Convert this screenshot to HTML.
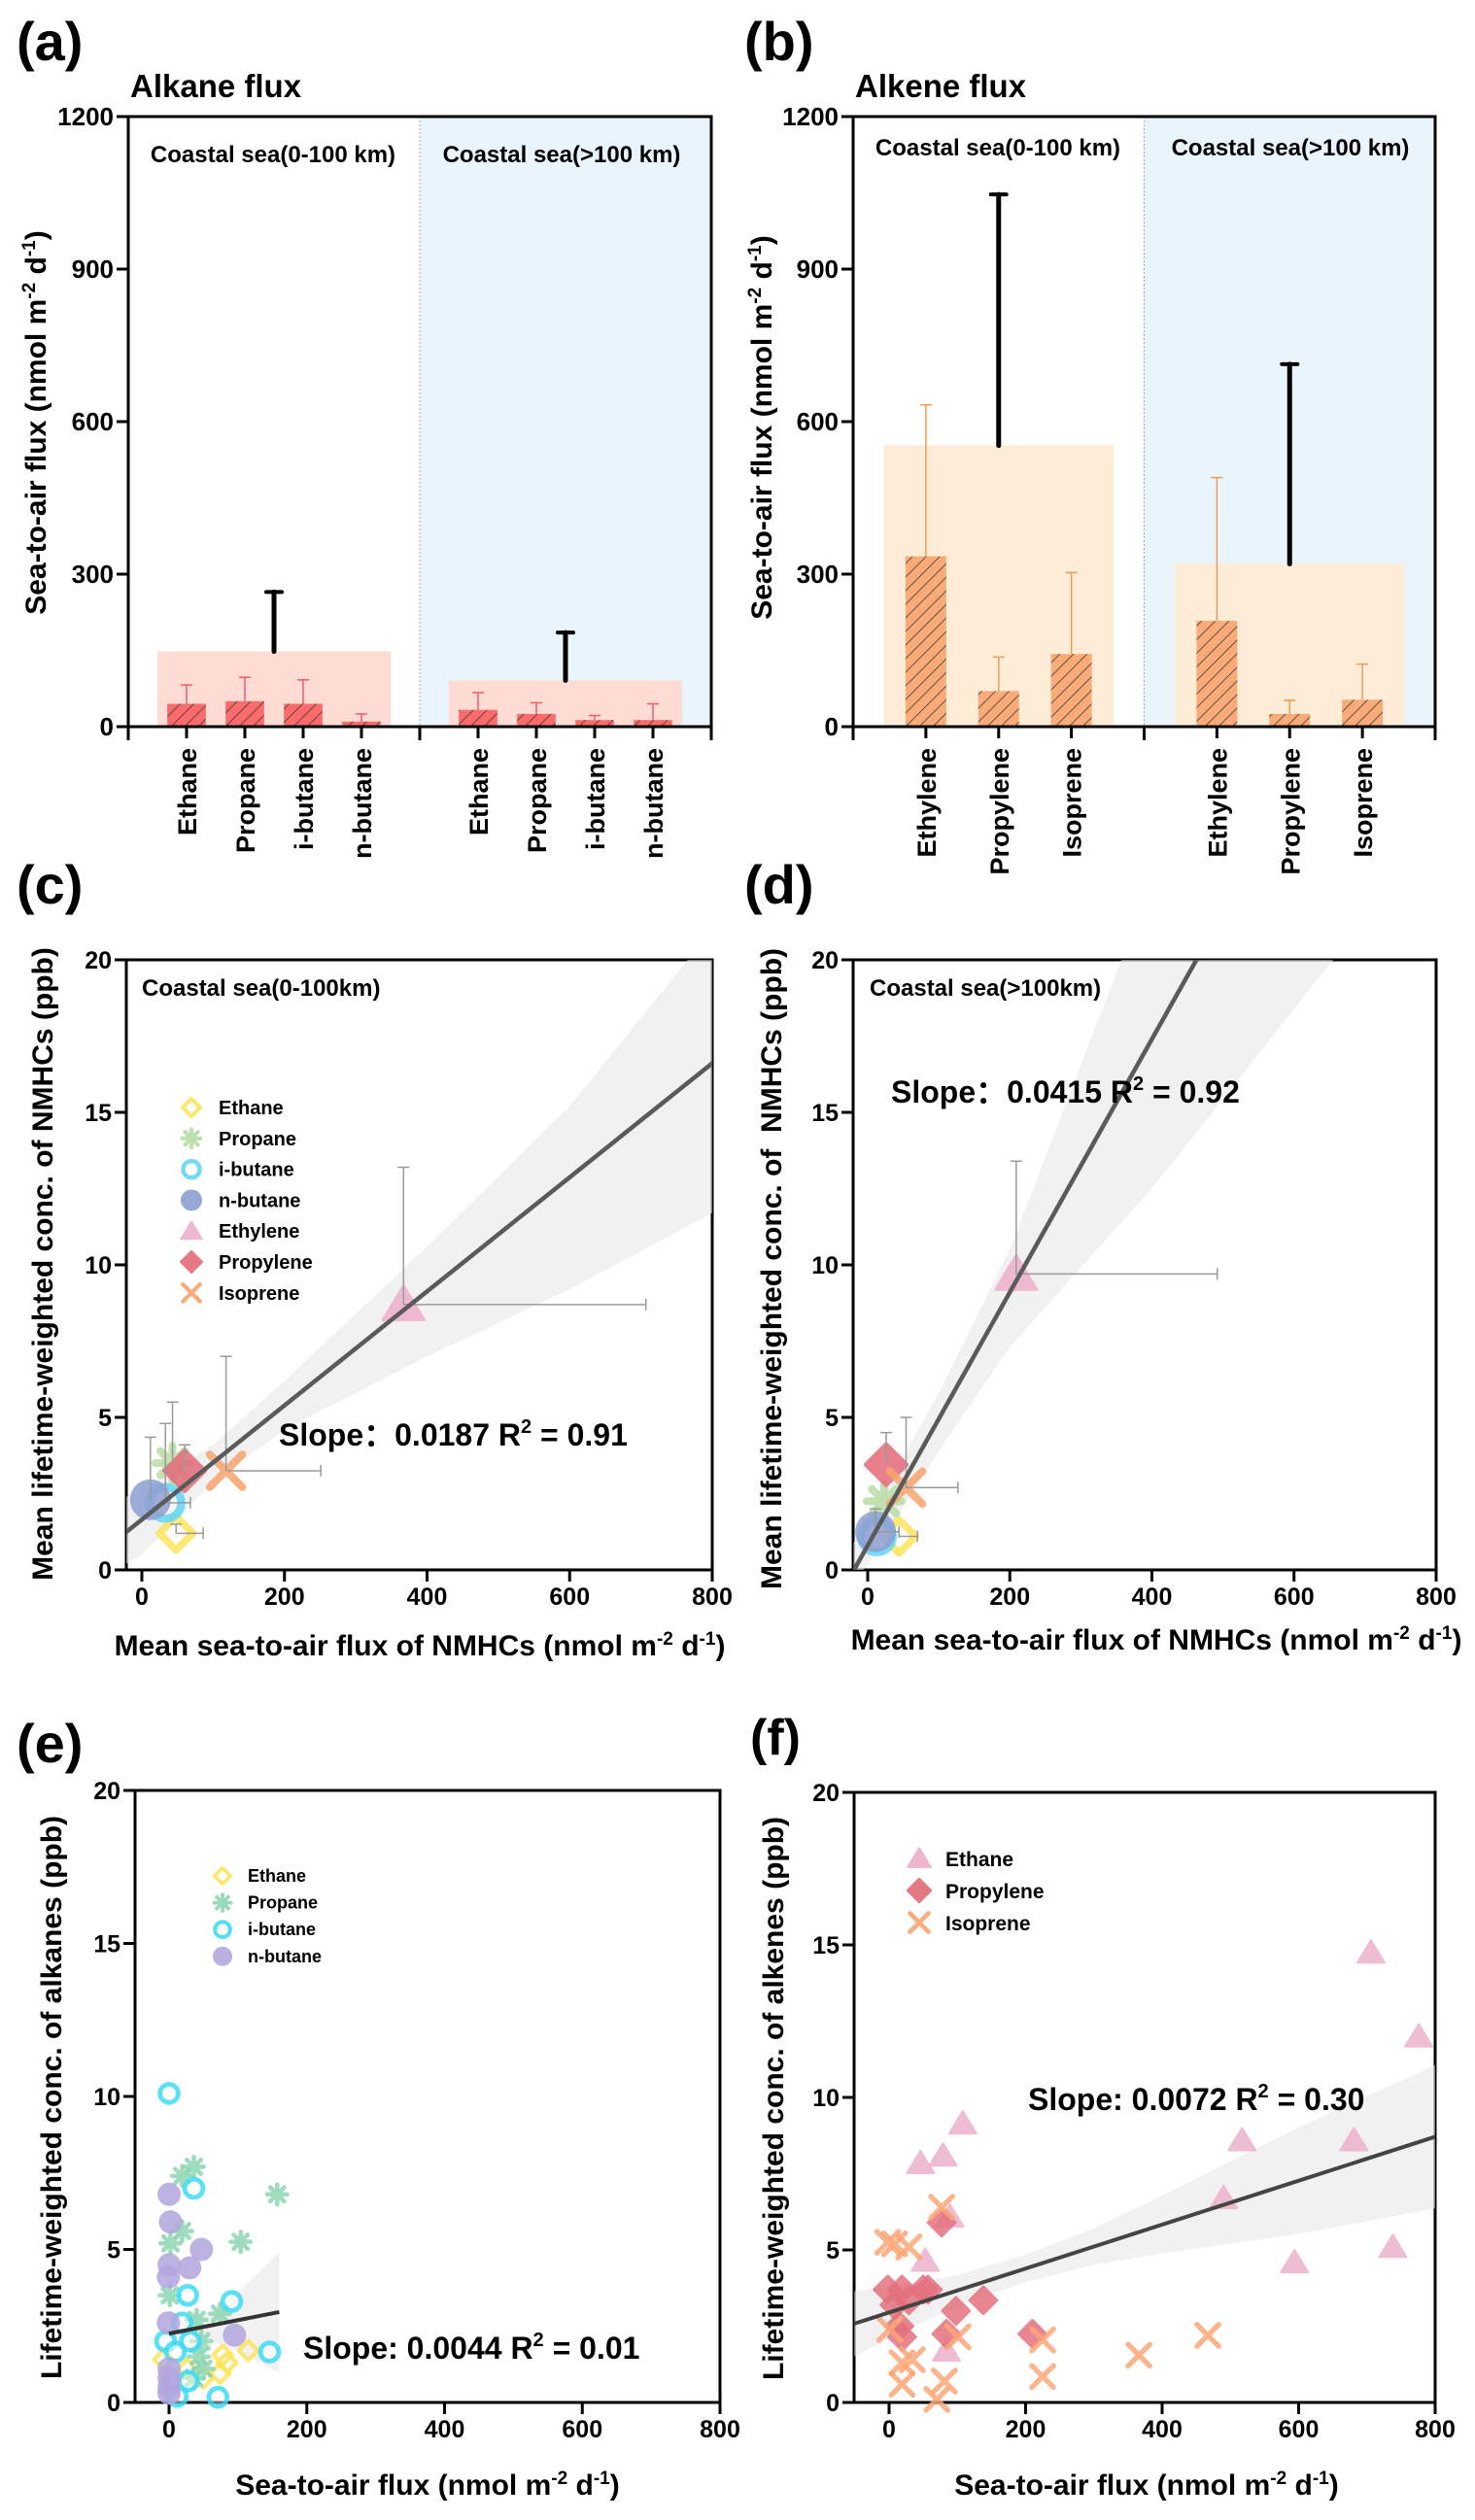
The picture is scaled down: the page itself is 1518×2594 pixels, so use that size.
<!DOCTYPE html>
<html>
<head>
<meta charset="utf-8">
<title>NMHC sea-to-air flux figure</title>
<style>
  html, body { margin: 0; padding: 0; background: #ffffff; }
  svg { display: block; font-family: "Liberation Sans", Arial, sans-serif; font-weight: bold; }
  text { fill: #000; }
</style>
</head>
<body>
<svg id="fig" xmlns="http://www.w3.org/2000/svg" width="1518" height="2594" viewBox="0 0 1518 2594">
  <defs>
    <pattern id="hatch" patternUnits="userSpaceOnUse" width="14" height="14">
      <path d="M-2,16 L16,-2 M-9,9 L9,-9 M5,23 L23,5" stroke="#333" stroke-width="1" opacity="0.75"/>
    </pattern>
    <clipPath id="clip-c"><rect x="130" y="988" width="603" height="628"/></clipPath>
    <clipPath id="clip-d"><rect x="878" y="988" width="600" height="628"/></clipPath>
    <clipPath id="clip-e"><rect x="139" y="1843" width="602" height="630"/></clipPath>
    <clipPath id="clip-f"><rect x="879" y="1845" width="598" height="628"/></clipPath>
  </defs>

  <!-- Panel letters and titles -->
  <text x="17" y="62" font-size="56">(a)</text>
  <text x="134" y="100" font-size="33">Alkane flux</text>
  <text x="766" y="62" font-size="56">(b)</text>
  <text x="880" y="100" font-size="33">Alkene flux</text>
  <text x="17" y="930" font-size="56">(c)</text>
  <text x="766" y="930" font-size="56">(d)</text>
  <text x="17" y="1814" font-size="56">(e)</text>
  <text x="772" y="1806" font-size="52">(f)</text>

  <!-- Axis titles -->
  <text transform="translate(47,435) rotate(-90)" text-anchor="middle" font-size="30">Sea-to-air flux (nmol m<tspan dy="-11" font-size="19">-2</tspan><tspan dy="11"> d</tspan><tspan dy="-11" font-size="19">-1</tspan><tspan dy="11">)</tspan></text>
  <text transform="translate(794,440) rotate(-90)" text-anchor="middle" font-size="30">Sea-to-air flux (nmol m<tspan dy="-11" font-size="19">-2</tspan><tspan dy="11"> d</tspan><tspan dy="-11" font-size="19">-1</tspan><tspan dy="11">)</tspan></text>
  <text transform="translate(54,1301) rotate(-90)" text-anchor="middle" font-size="30">Mean lifetime-weighted conc. of NMHCs (ppb)</text>
  <text transform="translate(804,1306) rotate(-90)" text-anchor="middle" font-size="30" xml:space="preserve">Mean lifetime-weighted conc. of  NMHCs (ppb)</text>
  <text transform="translate(63,2159) rotate(-90)" text-anchor="middle" font-size="30">Lifetime-weighted conc. of alkanes (ppb)</text>
  <text transform="translate(806,2160) rotate(-90)" text-anchor="middle" font-size="30">Lifetime-weighted conc. of alkenes (ppb)</text>

  <text x="432" y="1704" text-anchor="middle" font-size="30">Mean sea-to-air flux of NMHCs (nmol m<tspan dy="-11" font-size="19">-2</tspan><tspan dy="11"> d</tspan><tspan dy="-11" font-size="19">-1</tspan><tspan dy="11">)</tspan></text>
  <text x="1190" y="1698" text-anchor="middle" font-size="30">Mean sea-to-air flux of NMHCs (nmol m<tspan dy="-11" font-size="19">-2</tspan><tspan dy="11"> d</tspan><tspan dy="-11" font-size="19">-1</tspan><tspan dy="11">)</tspan></text>
  <text x="440" y="2568" text-anchor="middle" font-size="30">Sea-to-air flux (nmol m<tspan dy="-11" font-size="19">-2</tspan><tspan dy="11"> d</tspan><tspan dy="-11" font-size="19">-1</tspan><tspan dy="11">)</tspan></text>
  <text x="1180" y="2568" text-anchor="middle" font-size="30">Sea-to-air flux (nmol m<tspan dy="-11" font-size="19">-2</tspan><tspan dy="11"> d</tspan><tspan dy="-11" font-size="19">-1</tspan><tspan dy="11">)</tspan></text>

  <g id="layer-marks"></g>

  <!-- Inner annotations -->
  <text x="281" y="167" text-anchor="middle" font-size="24">Coastal sea(0-100 km)</text>
  <text x="578" y="167" text-anchor="middle" font-size="24">Coastal sea(&gt;100 km)</text>
  <text x="1027" y="160" text-anchor="middle" font-size="24">Coastal sea(0-100 km)</text>
  <text x="1328" y="160" text-anchor="middle" font-size="24">Coastal sea(&gt;100 km)</text>
  <text x="146" y="1025" font-size="24">Coastal sea(0-100km)</text>
  <text x="895" y="1025" font-size="24">Coastal sea(&gt;100km)</text>
  <text x="287" y="1488" font-size="32" xml:space="preserve">Slope：0.0187 R<tspan dy="-13" font-size="20">2</tspan><tspan dy="13"> = 0.91</tspan></text>
  <text x="917" y="1135" font-size="32" xml:space="preserve">Slope：0.0415 R<tspan dy="-13" font-size="20">2</tspan><tspan dy="13"> = 0.92</tspan></text>
  <text x="312" y="2428" font-size="32">Slope: 0.0044 R<tspan dy="-13" font-size="20">2</tspan><tspan dy="13"> = 0.01</tspan></text>
  <text x="1058" y="2172" font-size="32">Slope: 0.0072 R<tspan dy="-13" font-size="20">2</tspan><tspan dy="13"> = 0.30</tspan></text>
</svg>

<script>
// ===================== DATA =====================
// Panel (a) alkane flux
const alkaneCats = ['Ethane', 'Propane', 'i-butane', 'n-butane'];
const alkaneNear = [45, 50, 45, 10];
const alkaneNearErr = [82, 97, 92, 25];
const alkaneFar = [33, 25, 13, 13];
const alkaneFarErr = [67, 47, 22, 45];
const alkaneTotal = [148, 91];
const alkaneTotalErr = [265, 185];

// Panel (b) alkene flux
const alkeneCats = ['Ethylene', 'Propylene', 'Isoprene'];
const alkeneNear = [335, 70, 143];
const alkeneNearErr = [633, 137, 303];
const alkeneFar = [208, 25, 53];
const alkeneFarErr = [490, 52, 123];
const alkeneTotal = [553, 320];
const alkeneTotalErr = [1047, 713];

const fluxTicks = [0, 300, 600, 900, 1200];

// Panel (c) near-shore means
const speciesNames = ['Ethane', 'Propane', 'i-butane', 'n-butane', 'Ethylene', 'Propylene', 'Isoprene'];
const nearFlux = [48, 43, 33, 12, 367, 60, 118];
const nearConc = [1.2, 3.5, 2.2, 2.3, 8.7, 3.25, 3.25];
const nearFluxHi = [86, 43, 68, 12, 707, 60, 251];
const nearConcHi = [1.5, 5.5, 4.8, 4.35, 13.2, 4.1, 7.0];
const nearBandX = [-22, 0, 100, 200, 400, 600, 800];
const nearBandLo = [0.2, 0.5, 2.9, 4.6, 7.0, 9.2, 11.7];
const nearBandHi = [2.4, 2.6, 4.1, 6.2, 10.6, 15.2, 21.0];
const nearFit = [1.65, 0.0187];

// Panel (d) offshore means
const farFlux = [44, 23, 13, 11, 209, 26, 54];
const farConc = [1.1, 2.25, 1.1, 1.25, 9.7, 3.45, 2.7];
const farFluxHi = [70, 23, 13, 44, 492, 26, 127];
const farConcHi = [1.1, 2.25, 1.1, 2.0, 13.4, 4.5, 5.0];
const farBandX = [-20, 0, 100, 200, 357, 400, 655, 800];
const farBandLo = [-0.5, 0.2, 3.9, 7.3, 11.4, 12.5, 20.0, 24.0];
const farBandHi = [0.9, 1.6, 5.8, 10.5, 20.0, 22.5, 34.0, 40.0];
const farFit = [0.8, 0.0415];

const scatterXTicks = [0, 200, 400, 600, 800];
const scatterYTicks = [0, 5, 10, 15, 20];

// Panel (e) alkanes
const eEthaneX = [-8, 78, 84, 115, 74, 50, 26];
const eEthaneY = [1.4, 1.55, 1.3, 1.7, 0.95, 0.8, 1.1];
const ePropaneX = [36, 19, 157, 19, 2, 104, 1, 40, 74, 43, 50, 36, 47];
const ePropaneY = [7.7, 7.4, 6.8, 5.6, 5.2, 5.25, 3.5, 2.7, 2.9, 1.5, 1.1, 0.8, 2.0];
const eIbutaneX = [0, 36, 27, 91, 19, 31, -5, 9, 146, 28, 71, 12];
const eIbutaneY = [10.1, 7.0, 3.5, 3.3, 2.6, 2.0, 2.0, 1.65, 1.65, 0.7, 0.17, 0.2];
const eNbutaneX = [0, 2, 47, 0, 30, -1, -1, 95, 0, 0, 0, 0];
const eNbutaneY = [6.8, 5.9, 5.0, 4.5, 4.4, 4.1, 2.6, 2.2, 1.1, 0.8, 0.5, 0.3];
const eBandX = [0, 50, 100, 160];
const eBandLo = [1.6, 2.1, 1.7, 0.95];
const eBandHi = [2.8, 2.85, 3.6, 4.9];
const eFit = [2.25, 0.0044];
const eFitRange = [0, 160];

// Panel (f) alkenes
const fEthyleneX = [706, 776, 108, 79, 46, 517, 681, 490, 89, 53, 594, 738, 84];
const fEthyleneY = [14.75, 12.0, 9.15, 8.1, 7.85, 8.6, 8.6, 6.7, 6.1, 4.65, 4.6, 5.1, 1.7];
const fPropyleneX = [-2, 19, 50, 57, 29, 138, 98, 15, 19, 84, 210, 77, 8];
const fPropyleneY = [3.7, 3.7, 3.7, 3.7, 3.35, 3.35, 3.0, 2.5, 2.15, 2.25, 2.25, 5.9, 3.2];
const fIsopreneX = [-2, 8, 29, 77, 1, 101, 225, 467, 366, 225, 19, 34, 19, 81, 70];
const fIsopreneY = [5.25, 5.2, 5.1, 6.4, 2.4, 2.15, 2.05, 2.2, 1.55, 0.85, 1.3, 1.4, 0.6, 0.7, 0.1];
const fBandX = [-51, 0, 100, 200, 300, 400, 500, 600, 700, 800];
const fBandLo = [1.51, 2.1, 3.17, 3.94, 4.51, 4.88, 5.2, 5.52, 5.94, 6.36];
const fBandHi = [3.65, 3.8, 4.17, 4.84, 5.71, 6.78, 7.9, 9.02, 10.04, 11.06];
const fFit = [2.95, 0.0072];

// ===================== HELPERS =====================
const NS = 'http://www.w3.org/2000/svg';
const svg = document.getElementById('fig');
const layer = document.getElementById('layer-marks');
function mk(tag, attrs, parent) {
  const e = document.createElementNS(NS, tag);
  for (const k in attrs) e.setAttribute(k, attrs[k]);
  (parent || layer).appendChild(e);
  return e;
}
function lin(d0, d1, p0, p1) { return v => p0 + (v - d0) / (d1 - d0) * (p1 - p0); }

const COLORS = {
  'Ethane': '#fde45a', 'Propane': '#b9dca4', 'i-butane': '#62d6f6', 'n-butane': '#8d9ed2',
  'Ethylene': '#eeb0cb', 'Propylene': '#e46a7a', 'Isoprene': '#f8a46c'
};
const SHAPES = {
  'Ethane': 'diamondOpen', 'Propane': 'asterisk', 'i-butane': 'ring', 'n-butane': 'circle',
  'Ethylene': 'triangle', 'Propylene': 'diamond', 'Isoprene': 'x'
};

function marker(shape, cx, cy, s, color, parent, opacity) {
  const g = mk('g', { opacity: opacity }, parent);
  if (shape === 'diamondOpen') {
    const k = s * 0.82;
    mk('polygon', { points: `${cx},${cy - k} ${cx + k},${cy} ${cx},${cy + k} ${cx - k},${cy}`, fill: 'none', stroke: color, 'stroke-width': s * 0.36, 'stroke-linejoin': 'round' }, g);
  } else if (shape === 'asterisk') {
    for (let a = 0; a < 180; a += 45) {
      const r = a * Math.PI / 180;
      const dx = Math.cos(r) * s * 0.85, dy = Math.sin(r) * s * 0.85;
      mk('line', { x1: cx - dx, y1: cy - dy, x2: cx + dx, y2: cy + dy, stroke: color, 'stroke-width': s * 0.38, 'stroke-linecap': 'round' }, g);
    }
  } else if (shape === 'ring') {
    mk('circle', { cx: cx, cy: cy, r: s * 0.78, fill: '#ffffff', 'fill-opacity': 0.5, stroke: color, 'stroke-width': s * 0.4 }, g);
  } else if (shape === 'circle') {
    mk('circle', { cx: cx, cy: cy, r: s, fill: color }, g);
  } else if (shape === 'triangle') {
    mk('polygon', { points: `${cx},${cy - s * 0.9} ${cx + s},${cy + s * 0.75} ${cx - s},${cy + s * 0.75}`, fill: color, stroke: color, 'stroke-width': s * 0.15, 'stroke-linejoin': 'round' }, g);
  } else if (shape === 'diamond') {
    mk('polygon', { points: `${cx},${cy - s} ${cx + s},${cy} ${cx},${cy + s} ${cx - s},${cy}`, fill: color, stroke: color, 'stroke-width': s * 0.2, 'stroke-linejoin': 'round' }, g);
  } else if (shape === 'x') {
    const k = s * 0.8;
    mk('line', { x1: cx - k, y1: cy - k, x2: cx + k, y2: cy + k, stroke: color, 'stroke-width': s * 0.38, 'stroke-linecap': 'round' }, g);
    mk('line', { x1: cx - k, y1: cy + k, x2: cx + k, y2: cy - k, stroke: color, 'stroke-width': s * 0.38, 'stroke-linecap': 'round' }, g);
  }
  return g;
}

// ===================== BAR PANELS =====================
function barPanel(p, cats, near, nearErr, far, farErr, total, totalErr) {
  const y = lin(0, 1200, p.bottom, p.top);
  const mid = (p.left + p.right) / 2;
  const n = cats.length;
  const regions = [[p.left, mid, near, nearErr], [mid, p.right, far, farErr]];

  const far_bg = mk('rect', { x: mid, y: p.top, width: p.right - mid, height: p.bottom - p.top, fill: '#eaf4fd' });
  
  

  const divider = mk('line', { x1: mid, y1: p.top, x2: mid, y2: p.bottom, stroke: '#aaa', 'stroke-width': 1, 'stroke-dasharray': '2,2' });
  
  

  regions.forEach((reg, ri) => {
    const [l, r, vals, errs] = reg;
    const sp = (r - l) / (n + 1);
    const centers = cats.map((c, i) => l + sp * (i + 1) + p.shift);
    const bgX0 = centers[0] - sp * p.bgPad;
    const bgX1 = centers[n - 1] + sp * p.bgPad;
    const totRect = mk('rect', { x: bgX0, y: y(total[ri]), width: bgX1 - bgX0, height: p.bottom - y(total[ri]), fill: p.totalColor });
    
    

    const cxm = (centers[0] + centers[n - 1]) / 2;
    const tErr = mk('g', {});
    
    
    mk('line', { x1: cxm, y1: y(total[ri]), x2: cxm, y2: y(totalErr[ri]), stroke: '#000', 'stroke-width': 5, 'stroke-linecap': 'round' }, tErr);
    mk('line', { x1: cxm - 8, y1: y(totalErr[ri]), x2: cxm + 8, y2: y(totalErr[ri]), stroke: '#000', 'stroke-width': 4, 'stroke-linecap': 'round' }, tErr);

    cats.forEach((c, i) => {
      const bw = sp * p.barFrac;
      const bx = centers[i] - bw / 2;
      const by = y(vals[i]);
      const bar = mk('rect', { x: bx, y: by, width: bw, height: p.bottom - by, fill: p.barColor });
      
      
      const hatchRect = mk('rect', { x: bx, y: by, width: bw, height: p.bottom - by, fill: 'url(#hatch)' });
      
      

      const eb = mk('g', {});
      
      
      mk('line', { x1: centers[i], y1: by, x2: centers[i], y2: y(errs[i]), stroke: p.errColor, 'stroke-width': 1.5 }, eb);
      mk('line', { x1: centers[i] - 6, y1: y(errs[i]), x2: centers[i] + 6, y2: y(errs[i]), stroke: p.errColor, 'stroke-width': 1.5 }, eb);

      const tk = mk('line', { x1: centers[i], y1: p.bottom, x2: centers[i], y2: p.bottom + 12, stroke: '#000', 'stroke-width': 3 });
      
      
      const lbl = mk('text', { transform: `translate(${centers[i] + 10},770) rotate(-90)`, 'text-anchor': 'end', 'font-size': 27 });
      lbl.textContent = c;
      
      
    });
  });

  // frame and axes
  const frame = mk('rect', { x: p.left, y: p.top, width: p.right - p.left, height: p.bottom - p.top, fill: 'none', stroke: '#000', 'stroke-width': 3 });
  
  
  [p.left, mid, p.right].forEach(xx => {
    const t = mk('line', { x1: xx, y1: p.bottom, x2: xx, y2: p.bottom + 14, stroke: '#000', 'stroke-width': 3 });
    
    
  });
  fluxTicks.forEach(v => {
    const t = mk('line', { x1: p.left - 12, y1: y(v), x2: p.left, y2: y(v), stroke: '#000', 'stroke-width': 3 });
    
    
    const tl = mk('text', { x: p.left - 15, y: y(v) + 9, 'text-anchor': 'end', 'font-size': 26 });
    tl.textContent = v;
    
    
  });
}

barPanel({ left: 132, right: 732, top: 120, bottom: 748, shift: 0, bgPad: 0.5, barFrac: 0.66,
  totalColor: '#fedcd3', barColor: '#fb6b6b', errColor: '#f25a6a' },
  alkaneCats, alkaneNear, alkaneNearErr, alkaneFar, alkaneFarErr, alkaneTotal, alkaneTotalErr);
barPanel({ left: 878, right: 1477, top: 120, bottom: 748, shift: 0, bgPad: 0.58, barFrac: 0.56,
  totalColor: '#feedd6', barColor: '#fbab78', errColor: '#ef9a58' },
  alkeneCats, alkeneNear, alkeneNearErr, alkeneFar, alkeneFarErr, alkeneTotal, alkeneTotalErr);

// ===================== SCATTER PANELS =====================
function scatterAxes(p) {
  const x = lin(0, 800, p.x0, p.x800);
  const y = lin(0, 20, p.bottom, p.top);
  const frame = mk('rect', { x: p.left, y: p.top, width: p.right - p.left, height: p.bottom - p.top, fill: 'none', stroke: '#000', 'stroke-width': 3 });
  
  
  scatterXTicks.forEach(v => {
    const t = mk('line', { x1: x(v), y1: p.bottom, x2: x(v), y2: p.bottom + 12, stroke: '#000', 'stroke-width': 3 });
    
    
    const tl = mk('text', { x: x(v), y: p.bottom + 36, 'text-anchor': 'middle', 'font-size': 25 });
    tl.textContent = v;
    
    
  });
  scatterYTicks.forEach(v => {
    const t = mk('line', { x1: p.left - 12, y1: y(v), x2: p.left, y2: y(v), stroke: '#000', 'stroke-width': 3 });
    
    
    const tl = mk('text', { x: p.left - 15, y: y(v) + 9, 'text-anchor': 'end', 'font-size': 25 });
    tl.textContent = v;
    
    
  });
  return { x, y };
}

function drawBand(sc, bx, lo, hi, clip, name) {
  const pts = [];
  bx.forEach((v, i) => pts.push(sc.x(v) + ',' + sc.y(hi[i])));
  for (let i = bx.length - 1; i >= 0; i--) pts.push(sc.x(bx[i]) + ',' + sc.y(lo[i]));
  const band = mk('polygon', { points: pts.join(' '), fill: '#e6e6e6', opacity: 0.55, 'clip-path': 'url(#' + clip + ')' });
  
  
}
function drawFit(sc, fit, x0, x1, clip, name, color, w) {
  const ln = mk('line', { x1: sc.x(x0), y1: sc.y(fit[0] + fit[1] * x0), x2: sc.x(x1), y2: sc.y(fit[0] + fit[1] * x1), stroke: color, 'stroke-width': w, 'clip-path': 'url(#' + clip + ')' });
  
  
}

function meanPanel(p, flux, conc, fluxHi, concHi, bandX, bandLo, bandHi, fit, clip, tag) {
  const sc = scatterAxes(p);
  drawBand(sc, bandX, bandLo, bandHi, clip, 'confidence-band-' + tag);
  speciesNames.forEach((nm, i) => {
    const m = marker(SHAPES[nm], sc.x(flux[i]), sc.y(conc[i]), 21, COLORS[nm], layer, 0.85);
    
    
  });
  speciesNames.forEach((nm, i) => {
    const eb = mk('g', { stroke: '#9a9a9a', 'stroke-width': 1.5 });
    
    
    const cx = sc.x(flux[i]), cy = sc.y(conc[i]);
    if (concHi[i] > conc[i]) {
      mk('line', { x1: cx, y1: cy, x2: cx, y2: sc.y(concHi[i]) }, eb);
      mk('line', { x1: cx - 6, y1: sc.y(concHi[i]), x2: cx + 6, y2: sc.y(concHi[i]) }, eb);
    }
    if (fluxHi[i] > flux[i]) {
      mk('line', { x1: cx, y1: cy, x2: sc.x(fluxHi[i]), y2: cy }, eb);
      mk('line', { x1: sc.x(fluxHi[i]), y1: cy - 6, x2: sc.x(fluxHi[i]), y2: cy + 6 }, eb);
    }
  });
  drawFit(sc, fit, -40, 820, clip, 'regression-line-' + tag, '#5a5a5a', 4.5);
}

meanPanel({ left: 130, right: 733, top: 988, bottom: 1616, x0: 146, x800: 733 },
  nearFlux, nearConc, nearFluxHi, nearConcHi, nearBandX, nearBandLo, nearBandHi, nearFit, 'clip-c', 'c');
meanPanel({ left: 878, right: 1478, top: 988, bottom: 1616, x0: 893, x800: 1478 },
  farFlux, farConc, farFluxHi, farConcHi, farBandX, farBandLo, farBandHi, farFit, 'clip-d', 'd');

// Legend (c)
speciesNames.forEach((nm, i) => {
  const ly = 1140 + i * 31.8;
  const m = marker(SHAPES[nm], 197, ly, 11, COLORS[nm], layer, 0.9);
  
  
  const t = mk('text', { x: 225, y: ly + 7, 'font-size': 20 });
  t.textContent = nm;
  
  
});

// Panel (e)
const scE = scatterAxes({ left: 139, right: 741, top: 1843, bottom: 2473, x0: 174, x800: 741 });
drawBand(scE, eBandX, eBandLo, eBandHi, 'clip-e', 'confidence-band-e');
const eSeries = [
  ['Ethane', eEthaneX, eEthaneY, '#fde45a', 'diamondOpen'],
  ['Propane', ePropaneX, ePropaneY, '#8fd6b2', 'asterisk'],
  ['i-butane', eIbutaneX, eIbutaneY, '#3fdcf6', 'ring'],
  ['n-butane', eNbutaneX, eNbutaneY, '#b1a6de', 'circle']
];
eSeries.forEach(s => {
  s[1].forEach((xv, i) => {
    const m = marker(s[4], scE.x(xv), scE.y(s[2][i]), 12, s[3], layer, 0.85);
    
    
  });
});
drawFit(scE, eFit, eFitRange[0], eFitRange[1], 'clip-e', 'regression-line-e', '#333', 4);
eSeries.forEach((s, i) => {
  const ly = 1931 + i * 27.6;
  const m = marker(s[4], 229, ly, 10, s[3], layer, 0.9);
  
  
  const t = mk('text', { x: 255, y: ly + 6, 'font-size': 18 });
  t.textContent = s[0];
  
  
});

// Panel (f)
const scF = scatterAxes({ left: 879, right: 1477, top: 1845, bottom: 2473, x0: 915, x800: 1477 });
drawBand(scF, fBandX, fBandLo, fBandHi, 'clip-f', 'confidence-band-f');
const fSeries = [
  ['Ethane', fEthyleneX, fEthyleneY, '#edb2cc', 'triangle'],
  ['Propylene', fPropyleneX, fPropyleneY, '#e4717f', 'diamond'],
  ['Isoprene', fIsopreneX, fIsopreneY, '#fba878', 'x']
];
fSeries.forEach(s => {
  s[1].forEach((xv, i) => {
    const m = marker(s[4], scF.x(xv), scF.y(s[2][i]), 14, s[3], layer, 0.85);
    
    
  });
});
drawFit(scF, fFit, -60, 820, 'clip-f', 'regression-line-f', '#444', 4);
fSeries.forEach((s, i) => {
  const ly = 1913 + i * 33;
  const m = marker(s[4], 946, ly, 12, s[3], layer, 0.95);
  
  
  const t = mk('text', { x: 973, y: ly + 8, 'font-size': 21 });
  t.textContent = s[0];
  
  
});
</script>
</body>
</html>
